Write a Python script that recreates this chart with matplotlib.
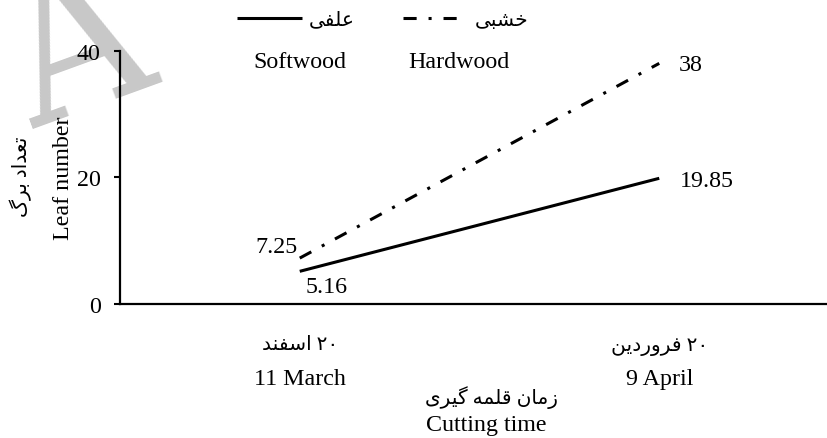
import re
import matplotlib
matplotlib.use('Agg')
import matplotlib.pyplot as plt
from matplotlib.lines import Line2D

# chart data
times_fa = ['۲۰ اسفند', '۲۰ فروردین']
times_en = ['11 March', '9 April']
softwood = [5.16, 19.85]
hardwood = [7.25, 38]
names_fa = ['علفی', 'خشبی']
names_en = ['Softwood', 'Hardwood']
yticks = [0, 20, 40]

# arabic presentation forms: isolated, final, initial, medial
FORMS = {
    'ا': ('\uFE8D', '\uFE8E', None, None),
    'ب': ('\uFE8F', '\uFE90', '\uFE91', '\uFE92'),
    'ت': ('\uFE95', '\uFE96', '\uFE97', '\uFE98'),
    'خ': ('\uFEA5', '\uFEA6', '\uFEA7', '\uFEA8'),
    'د': ('\uFEA9', '\uFEAA', None, None),
    'ر': ('\uFEAD', '\uFEAE', None, None),
    'ز': ('\uFEAF', '\uFEB0', None, None),
    'س': ('\uFEB1', '\uFEB2', '\uFEB3', '\uFEB4'),
    'ش': ('\uFEB5', '\uFEB6', '\uFEB7', '\uFEB8'),
    'ع': ('\uFEC9', '\uFECA', '\uFECB', '\uFECC'),
    'ف': ('\uFED1', '\uFED2', '\uFED3', '\uFED4'),
    'ق': ('\uFED5', '\uFED6', '\uFED7', '\uFED8'),
    'ل': ('\uFEDD', '\uFEDE', '\uFEDF', '\uFEE0'),
    'م': ('\uFEE1', '\uFEE2', '\uFEE3', '\uFEE4'),
    'ن': ('\uFEE5', '\uFEE6', '\uFEE7', '\uFEE8'),
    'ه': ('\uFEE9', '\uFEEA', '\uFEEB', '\uFEEC'),
    'و': ('\uFEED', '\uFEEE', None, None),
    'ی': ('\uFBFC', '\uFBFD', '\uFBFE', '\uFBFF'),
    'گ': ('\uFB92', '\uFB93', '\uFB94', '\uFB95'),
}


def shape(s):
    # matplotlib has no arabic shaping, do it by hand and flip to visual order
    out = []
    for i, ch in enumerate(s):
        if ch not in FORMS:
            out.append(ch)
            continue
        prev = s[i - 1] if i > 0 else ''
        nxt = s[i + 1] if i + 1 < len(s) else ''
        join_prev = prev in FORMS and FORMS[prev][2] is not None
        join_next = FORMS[ch][2] is not None and nxt in FORMS
        iso, fin, ini, med = FORMS[ch]
        if join_prev and join_next:
            out.append(med)
        elif join_prev:
            out.append(fin)
        elif join_next:
            out.append(ini)
        else:
            out.append(iso)
    vis = ''.join(out)[::-1]
    return re.sub(r'[۰-۹0-9]+', lambda m: m.group(0)[::-1], vis)


plt.rcParams['font.family'] = ['Liberation Serif', 'DejaVu Sans']
fs = 17.3     # latin text
fs_fa = 14.5  # persian text (DejaVu is wide)

fig = plt.figure(figsize=(8.28, 4.39), dpi=100)
ax = fig.add_axes([120 / 828, 134 / 439, 719 / 828, 253.3 / 439])
ax.patch.set_alpha(0)

x = range(len(times_en))
dashdot = (0, (4.3, 3.9, 1, 3.9))
ax.plot(x, softwood, color='black', lw=2.2, solid_capstyle='butt')
ax.plot(x, hardwood, color='black', lw=2.2, ls=dashdot, dash_capstyle='butt')

ax.set_xlim(-0.5, 1.5)
ax.set_ylim(0, 40)
ax.set_yticks(yticks)
ax.set_xticks(list(x))
ax.set_xticklabels(times_en)
ax.tick_params(axis='y', direction='out', length=4, width=1.5, pad=10, labelsize=fs)
ax.tick_params(axis='x', length=0, pad=46, labelsize=fs)
for side in ['top', 'right']:
    ax.spines[side].set_visible(False)
for side in ['left', 'bottom']:
    ax.spines[side].set_linewidth(1.6)

# persian line of the category labels
for i, t in enumerate(times_fa):
    ax.annotate(shape(t), xy=(i, 0), xycoords=('data', 'axes fraction'),
                xytext=(0, -41), textcoords='offset pixels',
                ha='center', va='center', fontsize=fs_fa)

ax.set_xlabel('Cutting time', fontsize=fs, labelpad=18, x=0.51)
ax.annotate(shape('زمان قلمه گیری'), xy=(0.516, 0), xycoords='axes fraction',
            xytext=(0, -93), textcoords='offset pixels',
            ha='center', va='center', fontsize=fs_fa)
ax.set_ylabel('Leaf number', fontsize=fs, labelpad=2)
fig.text(21 / 828, 1 - 177 / 439, shape('تعداد برگ'), rotation=90, fontsize=fs_fa,
         ha='center', va='center')

# value labels
ax.annotate(f'{hardwood[0]:g}', xy=(0, hardwood[0]), xytext=(-2, 12),
            textcoords='offset pixels', ha='right', va='center', fontsize=fs)
ax.annotate(f'{softwood[0]:g}', xy=(0, softwood[0]), xytext=(6, -15),
            textcoords='offset pixels', ha='left', va='center', fontsize=fs)
ax.annotate(f'{hardwood[1]:g}', xy=(1, hardwood[1]), xytext=(20, -1),
            textcoords='offset pixels', ha='left', va='center', fontsize=fs)
ax.annotate(f'{softwood[1]:g}', xy=(1, softwood[1]), xytext=(21, -2),
            textcoords='offset pixels', ha='left', va='center', fontsize=fs)

# legend on top
handles = [Line2D([], [], color='black', lw=2.2, solid_capstyle='butt'),
           Line2D([], [], color='black', lw=2.2, ls=dashdot, dash_capstyle='butt')]
fig.legend(handles, [shape(n) for n in names_fa], ncol=2, loc='center left',
           bbox_to_anchor=(237 / 828, 1 - 21 / 439), frameon=False, fontsize=fs_fa,
           handlelength=3.25, handletextpad=0.3, columnspacing=2.4,
           borderpad=0, borderaxespad=0)
fig.text(300 / 828, 1 - 62 / 439, names_en[0], fontsize=fs, ha='center', va='center')
fig.text(459 / 828, 1 - 62 / 439, names_en[1], fontsize=fs, ha='center', va='center')

# watermark
fig.text(78 / 828, 1 - 52 / 439, 'A', fontsize=150, color='#c8c8c8', rotation=20,
         family='DejaVu Serif', fontstretch='condensed',
         rotation_mode='anchor', ha='center', va='center', zorder=-1)

fig.savefig('out.png', dpi=100)
